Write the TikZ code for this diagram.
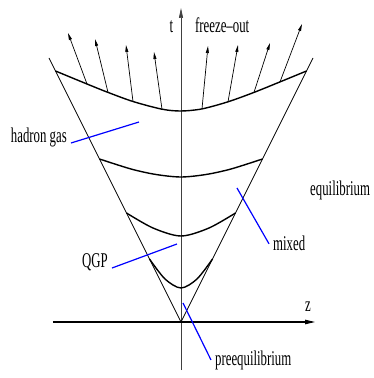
\documentclass[tikz,border=0pt]{standalone}
\usepackage{fontspec}
\newfontfamily\figfont[FakeStretch=0.61]{Liberation Serif}
\usetikzlibrary{arrows.meta}

\begin{document}
\begin{tikzpicture}[
  x=1pt, y=1pt,
  axis/.style={line width=0.7pt, black!75},
  zaxis/.style={line width=1.1pt, -{Triangle[length=10pt,width=4.5pt]}},
  cone/.style={line width=0.8pt},
  front/.style={line width=1.4pt},
  flow/.style={-{Triangle[length=7pt,width=3pt]}, line width=0.7pt},
  pointer/.style={blue, line width=1.2pt},
  lbl/.style={font=\figfont\fontsize{21}{24}\selectfont, inner xsep=4pt, inner ysep=0pt}
]
  \useasboundingbox (-181,-56) rectangle (193,322);

  % axes
  \coordinate (tbot) at (0,-48);
  \coordinate (ttop) at (0,314);
  \coordinate (zl) at (-128,0);
  \coordinate (zr) at (134,0);
  \draw[axis, -{Triangle[length=10pt,width=4pt]}] (tbot) -- (ttop);
  \draw[zaxis] (zl) -- (zr);

  % light cone
  \coordinate (o) at (0,0);
  \coordinate (cl) at (-132,264);
  \coordinate (cr) at (132,264);
  \draw[cone] (cl) -- (o) -- (cr);

  % flow arrows off the freeze-out surface
  \foreach \i/\bx/\by/\tx/\ty in {1/-94/238/-113/289, 2/-73/229.6/-86/283,
      3/-48/220.5/-55/277, 4/-19/212.8/-27/270, 5/21/213.1/27/276,
      6/47/220.2/57/277, 7/73/229.6/89/279, 8/99/240.1/121/298} {
    \coordinate (f\i) at (\bx,\by);
    \coordinate (g\i) at (\tx,\ty);
    \draw[flow] (f\i) -- (g\i);
  }

  % surfaces of constant temperature
  \draw[front] plot[smooth] coordinates {(-125.5,251) (f1) (f2) (f3) (f4)
      (0,211) (f5) (f6) (f7) (f8) (125.5,251)};
  \draw[front] plot[smooth] coordinates {(-81.5,163) (-50,153) (-25,147.5)
      (0,145) (25,147.5) (50,153) (81.5,163)};
  \draw[front] plot[smooth] coordinates {(-54.5,109) (-28,94) (0,86)
      (28,94) (54.5,109)};
  \draw[front] plot[smooth] coordinates {(-31.5,63) (-16,43) (0,34)
      (16,43) (31.5,63)};

  % labels
  \node[lbl, anchor=base] (tlab) at (-9.5,289) {t};
  \node[lbl, anchor=base west] (fo) at (10,289) {freeze–out};
  \node[lbl, anchor=base] (zlab) at (127,10) {z};
  \node[lbl, anchor=base east] (hadron) at (-110,179) {hadron gas};
  \node[lbl, anchor=base east] (qgp) at (-69,54) {QGP};
  \node[lbl, anchor=base west] (mixed) at (88,71) {mixed};
  \node[lbl, anchor=base west] (equil) at (125,126.5) {equilibrium};
  \node[lbl, anchor=base west] (preeq) at (30,-43) {preequilibrium};

  % pointers
  \coordinate (hg) at (-42,200);
  \coordinate (qg) at (-4,78);
  \coordinate (mx) at (56,134);
  \coordinate (pe) at (2,19);
  \draw[pointer] (hadron.base east) -- (hg);
  \draw[pointer] (qgp.base east) -- (qg);
  \draw[pointer] (mixed.west) -- (mx);
  \draw[pointer] (preeq.west) -- (pe);
\end{tikzpicture}
\end{document}
